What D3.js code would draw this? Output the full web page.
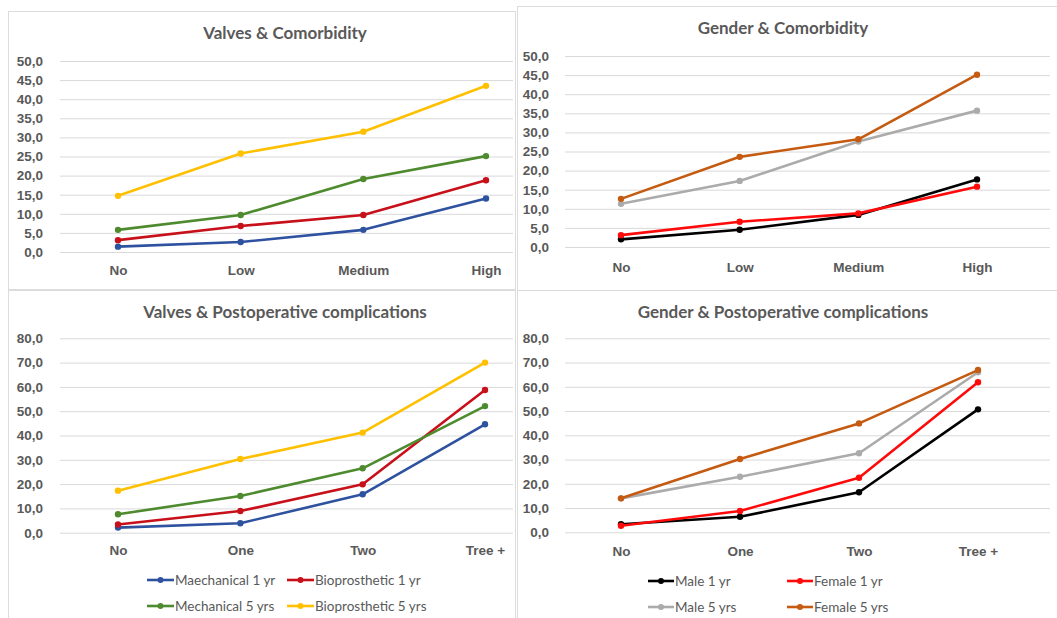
<!DOCTYPE html>
<html>
<head>
<meta charset="utf-8">
<script src="https://cdn.jsdelivr.net/npm/d3@7"></script>
<style>
  html, body { margin: 0; padding: 0; background: #fff; }
  svg { display: block; font-family: Lato, "Open Sans", sans-serif; }
</style>
</head>
<body>
<svg id="chart" width="1057" height="618"></svg>
<script>
// Categories
const comorbidityCats = ["No", "Low", "Medium", "High"];
const complicationCats = ["No", "One", "Two", "Tree +"];

// Series names
const valveNames = ["Maechanical 1 yr", "Bioprosthetic 1 yr", "Mechanical 5 yrs", "Bioprosthetic 5 yrs"];
const genderNames = ["Male 1 yr", "Female 1 yr", "Male 5 yrs", "Female 5 yrs"];

// Valves & Comorbidity (%)
const vcMech1 = [1.4, 2.6, 5.8, 14.0];
const vcBio1  = [3.1, 6.8, 9.7, 18.8];
const vcMech5 = [5.8, 9.7, 19.1, 25.1];
const vcBio5  = [14.7, 25.8, 31.5, 43.5];

// Gender & Comorbidity (%)
const gcMale1   = [2.0, 4.5, 8.4, 17.7];
const gcFemale1 = [3.1, 6.6, 8.8, 15.8];
const gcMale5   = [11.3, 17.3, 27.6, 35.7];
const gcFemale5 = [12.6, 23.6, 28.2, 45.1];

// Valves & Postoperative complications (%)
const vpMech1 = [2.1, 3.9, 15.8, 44.6];
const vpBio1  = [3.4, 8.9, 19.9, 58.7];
const vpMech5 = [7.6, 15.1, 26.5, 52.1];
const vpBio5  = [17.3, 30.3, 41.2, 70.0];

// Gender & Postoperative complications (%)
const gpMale1   = [3.3, 6.4, 16.5, 50.7];
const gpFemale1 = [2.7, 8.8, 22.5, 61.9];
const gpMale5   = [14.0, 22.9, 32.6, 66.0];
const gpFemale5 = [14.0, 30.2, 44.9, 66.9];

// Y tick values
const ticksComorbidity = [0, 5, 10, 15, 20, 25, 30, 35, 40, 45, 50];
const ticksComplications = [0, 10, 20, 30, 40, 50, 60, 70, 80];

const valveColors = ["#2F52A0", "#C8101A", "#4E8A2E", "#FFC000"];
const genderColors = ["#000000", "#FF0A0A", "#ABABAB", "#C55A11"];

const locale = d3.formatLocale({ decimal: ",", thousands: ".", grouping: [3], currency: ["", ""] });
const fmt = locale.format(".1f");

const svg = d3.select("#chart");
const textColor = "#595959";

function drawPanel(p) {
  // frame
  svg.append("rect")
    .attr("x", p.frame[0] + 0.5).attr("y", p.frame[1] + 0.5)
    .attr("width", p.frame[2]).attr("height", p.frame[3])
    .attr("fill", "#fff").attr("stroke", "#dcdcdc").attr("stroke-width", 1);

  const x = d3.scalePoint().domain(p.cats).range(p.xRange);
  const y = d3.scaleLinear().domain([0, p.yMax]).range(p.yRange);

  // y axis with gridlines
  const yAxis = svg.append("g")
    .attr("transform", `translate(${p.gridX[0]},0)`)
    .call(d3.axisLeft(y).tickValues(p.ticks).tickFormat(fmt)
      .tickSize(-(p.gridX[1] - p.gridX[0])).tickPadding(p.gridX[0] - p.labelRight));
  yAxis.select(".domain").remove();
  yAxis.selectAll("line").attr("stroke", "#d9d9d9").attr("stroke-width", 1);
  yAxis.selectAll("text").attr("fill", textColor)
    .style("font-size", "13.5px").style("font-weight", "700");

  // x axis labels
  const xAxis = svg.append("g")
    .attr("transform", `translate(0,${p.xLabelY})`)
    .call(d3.axisBottom(x).tickSize(0).tickPadding(0));
  xAxis.select(".domain").remove();
  xAxis.selectAll("text").attr("fill", textColor)
    .style("font-size", "13.5px").style("font-weight", "700");

  // title
  svg.append("text")
    .attr("x", p.title[1]).attr("y", p.title[2])
    .attr("text-anchor", "middle").attr("fill", textColor)
    .style("font-size", "17px").style("font-weight", "700")
    .text(p.title[0]);

  // series
  const line = d3.line().x((d, i) => x(p.cats[i])).y(d => y(d));
  p.series.forEach((vals, k) => {
    const g = svg.append("g");
    g.append("path").datum(vals)
      .attr("d", line).attr("fill", "none")
      .attr("stroke", p.colors[k]).attr("stroke-width", 2.6)
      .attr("stroke-linejoin", "round");
    g.selectAll("circle").data(vals).join("circle")
      .attr("cx", (d, i) => x(p.cats[i])).attr("cy", d => y(d))
      .attr("r", 3.2).attr("fill", p.colors[k]);
  });

  // legend
  if (p.legend) {
    p.names.forEach((name, k) => {
      const col = k % 2, row = Math.floor(k / 2);
      const lx = p.legend.x[col], ly = p.legend.y[row];
      const g = svg.append("g");
      g.append("line").attr("x1", lx).attr("x2", lx + p.legend.len)
        .attr("y1", ly).attr("y2", ly)
        .attr("stroke", p.colors[k]).attr("stroke-width", 2.6);
      g.append("circle").attr("cx", lx + p.legend.len / 2).attr("cy", ly)
        .attr("r", 3).attr("fill", p.colors[k]);
      g.append("text").attr("x", lx + p.legend.len + 1).attr("y", ly + 5)
        .attr("fill", textColor).style("font-size", "13.5px")
        .text(name);
    });
  }
}

drawPanel({
  frame: [8, 11, 507, 278],
  cats: comorbidityCats, xRange: [118, 486],
  yMax: 50, yRange: [252, 61], ticks: ticksComorbidity,
  gridX: [60, 513], labelRight: 43, xLabelY: 265,
  title: ["Valves & Comorbidity", 285, 39],
  series: [vcMech1, vcBio1, vcMech5, vcBio5], colors: valveColors, names: valveNames
});

drawPanel({
  frame: [517, 6, 545, 284],
  cats: comorbidityCats, xRange: [621, 977],
  yMax: 50, yRange: [247, 56], ticks: ticksComorbidity,
  gridX: [565, 1050], labelRight: 549, xLabelY: 262,
  title: ["Gender & Comorbidity", 783, 34],
  series: [gcMale1, gcFemale1, gcMale5, gcFemale5], colors: genderColors, names: genderNames
});

drawPanel({
  frame: [8, 290, 507, 340],
  cats: complicationCats, xRange: [118, 485],
  yMax: 80, yRange: [532.7, 338.3], ticks: ticksComplications,
  gridX: [60, 513], labelRight: 43, xLabelY: 545.5,
  title: ["Valves & Postoperative complications", 285, 318],
  series: [vpMech1, vpBio1, vpMech5, vpBio5], colors: valveColors, names: valveNames,
  legend: { x: [147, 287], y: [580, 606], len: 27 }
});

drawPanel({
  frame: [517, 290, 545, 340],
  cats: complicationCats, xRange: [621, 978],
  yMax: 80, yRange: [532.3, 338.3], ticks: ticksComplications,
  gridX: [565, 1050], labelRight: 549, xLabelY: 546,
  title: ["Gender & Postoperative complications", 783, 318],
  series: [gpMale1, gpFemale1, gpMale5, gpFemale5], colors: genderColors, names: genderNames,
  legend: { x: [648, 787], y: [581, 607], len: 26 }
});
</script>
</body>
</html>
